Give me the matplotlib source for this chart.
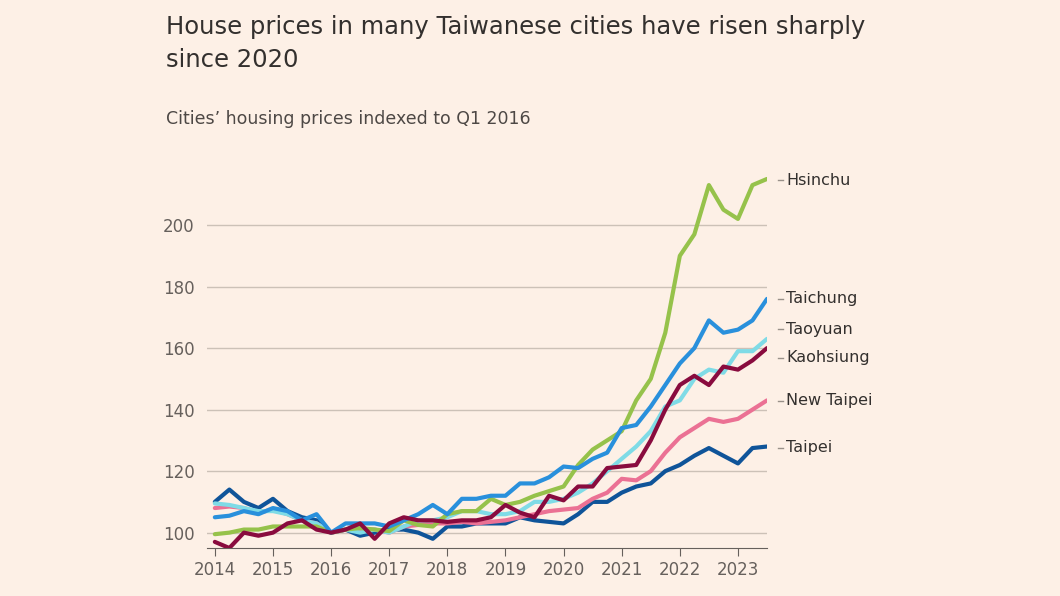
import matplotlib
matplotlib.use("Agg")
import matplotlib.pyplot as plt
import numpy as np

quarters = [2014 + i / 4 for i in range(39)]
taipei = [110,114,110,108,111,107,105,104,100,101,99,100,101,101,100,98,102,102,103,103,103,105,104,103.5,103,106,110,110,113,115,116,120,122,125,127.5,125,122.5,127.5,128]
hsinchu = [99.5,100,101,101,102,102,102,102,100,101,101.5,101,100.5,104,102.5,102,106,107,107,111,109,110,112,113.5,115,122,127,130,133,143,150,165,190,197,213,205,202,213,215]
taichung = [105,105.5,107,106,108,107,104,106,100,103,103,103,102,104,106,109,106,111,111,112,112,116,116,118,121.5,121,124,126,134,135,141,148,155,160,169,165,166,169,176]
taoyuan = [109.5,109,108,107,107,106,104,103,100,101,100,101,100,102,104,104,105,107,107,106,106,107,110,110,111,113,116,120,124,128,133,141,143,150,153,152,159,159,163]
kaohsiung = [97,95,100,99,100,103,104,101,100,101,103,98,103,105,104,104,103.5,104,104,105,109,106.5,105,112,110.5,115,115,121,121.5,122,130,140,148,151,148,154,153,156,160]
new_taipei = [108,108.5,108,106.5,107.5,106,104,103,100,101,101,101,100,102,102.5,103,103,103.5,103,103.5,104,105,106,107,107.5,108,111,113,117.5,117,120,126,131,134,137,136,137,140,143]

series = [
    ("Taipei", taipei, "#0f5499", 127.6),
    ("New Taipei", new_taipei, "#eb7194", 142.9),
    ("Taoyuan", taoyuan, "#7fdbe6", 166.2),
    ("Hsinchu", hsinchu, "#96c24b", 214.6),
    ("Taichung", taichung, "#2990dc", 176.0),
    ("Kaohsiung", kaohsiung, "#890b3e", 156.8),
]
yticks = [100, 120, 140, 160, 180, 200]
xticks = list(range(2014, 2024))

bg = "#fdf0e6"
fig = plt.figure(figsize=(10.6, 5.96), dpi=100, facecolor=bg)
ax = fig.add_axes([0.195, 0.0805, 0.5286, 0.6425], facecolor=bg)
for name, vals, col, ly in series:
    ax.plot(quarters, vals, color=col, lw=3, solid_capstyle="round", zorder=3)
    ax.plot([2023.69, 2023.77], [ly, ly], color="#99918a", lw=1, clip_on=False)
    ax.text(2023.83, ly, name, va="center", ha="left", fontsize=11.5,
            color="#33302e", clip_on=False)
ax.set_xlim(2013.86, 2023.5)
ax.set_ylim(95, 219.5)
ax.set_yticks(yticks)
ax.set_xticks(xticks)
ax.grid(axis="y", color="#ccc1b7", lw=1)
ax.set_axisbelow(True)
for s in ["top", "right", "left"]:
    ax.spines[s].set_visible(False)
ax.spines["bottom"].set_color("#66605c")
ax.tick_params(axis="y", length=0, labelsize=12, labelcolor="#66605c", pad=0)
for lab in ax.get_yticklabels():
    lab.set_horizontalalignment("left")
    lab.set_x(-0.078)
ax.tick_params(axis="x", length=6, color="#66605c", labelsize=12, labelcolor="#66605c")

fig.text(0.157, 0.975, "House prices in many Taiwanese cities have risen sharply\nsince 2020",
         fontsize=17.5, color="#33302e", va="top", ha="left", linespacing=1.5)
fig.text(0.157, 0.80, "Cities\u2019 housing prices indexed to Q1 2016",
         fontsize=12.5, color="#4d4845", va="center", ha="left")
fig.savefig("out.png", facecolor=bg)
